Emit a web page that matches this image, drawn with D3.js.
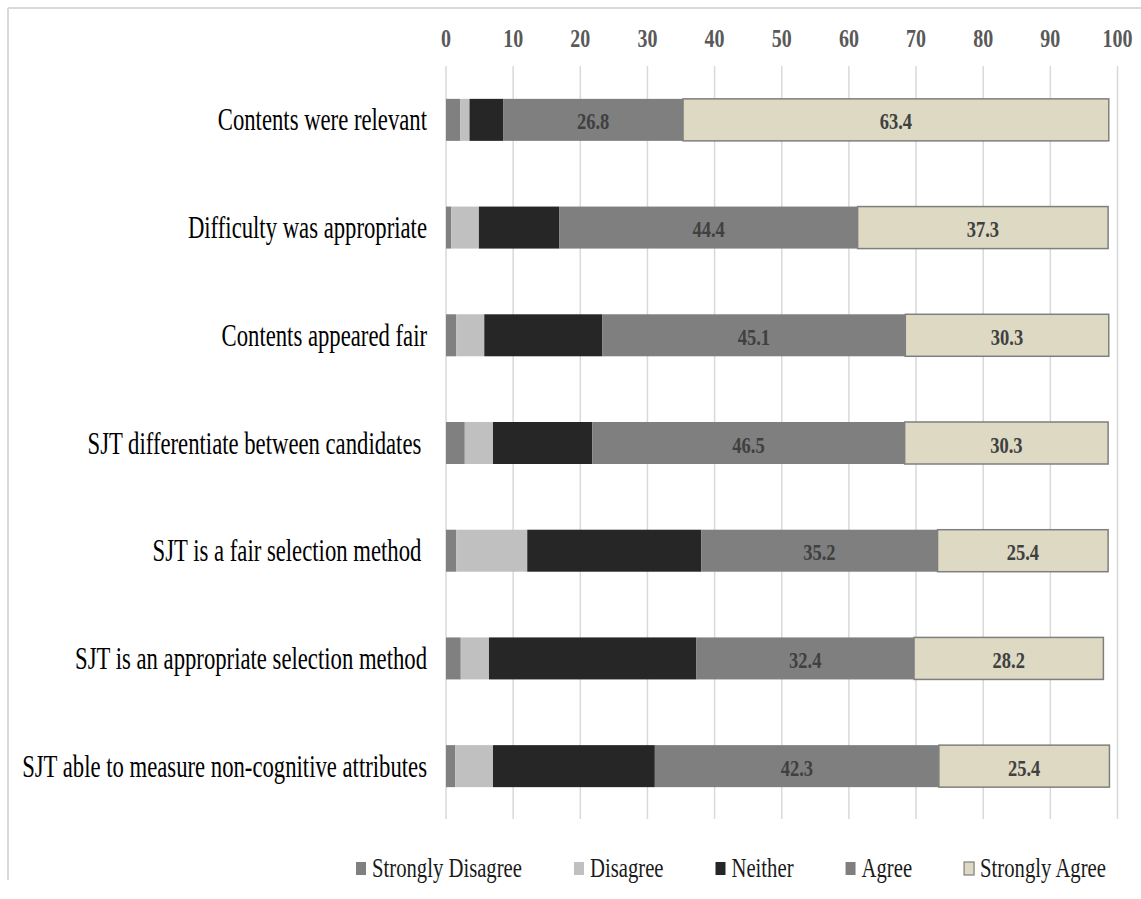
<!DOCTYPE html>
<html>
<head>
<meta charset="utf-8">
<script src="https://d3js.org/d3.v7.min.js"></script>
<style>
  html, body { margin: 0; padding: 0; background: #ffffff; }
  svg { display: block; }
  text { white-space: pre; }
</style>
</head>
<body>
<svg id="chart" width="1141" height="899"></svg>
<script>
// ---- data ----
const categories = [
  "Contents were relevant",
  "Difficulty was appropriate",
  "Contents appeared fair",
  "SJT differentiate between candidates ",
  "SJT is a fair selection method ",
  "SJT is an appropriate selection method",
  "SJT able to measure non-cognitive attributes"
];
const seriesNames = ["Strongly Disagree", "Disagree", "Neither", "Agree", "Strongly Agree"];
const stronglyDisagree = [2.1, 0.8, 1.5, 2.8, 1.5, 2.2, 1.4];
const disagree         = [1.4, 4.1, 4.2, 4.2, 10.6, 4.2, 5.6];
const neither          = [5.0, 12.0, 17.6, 14.8, 25.9, 30.9, 24.1];
const agree            = [26.8, 44.4, 45.1, 46.5, 35.2, 32.4, 42.3];
const stronglyAgree    = [63.4, 37.3, 30.3, 30.3, 25.4, 28.2, 25.4];
const tickValues = [0, 10, 20, 30, 40, 50, 60, 70, 80, 90, 100];
const labelledSeries = ["Agree", "Strongly Agree"];

// ---- styling ----
const colors = {
  "Strongly Disagree": "#808080",
  "Disagree": "#c0c0c0",
  "Neither": "#262626",
  "Agree": "#7f7f7f",
  "Strongly Agree": "#ddd9c3"
};
const strokes = {
  "Strongly Agree": "#7f7f7f"
};
const serif = "'Liberation Serif', 'Times New Roman', serif";

const svg = d3.select("#chart");

// frame lines (top and left)
svg.append("line").attr("x1", 8).attr("x2", 1141).attr("y1", 8).attr("y2", 8)
  .attr("stroke", "#d9d9d9").attr("stroke-width", 2);
svg.append("line").attr("x1", 8).attr("x2", 8).attr("y1", 8).attr("y2", 880)
  .attr("stroke", "#d9d9d9").attr("stroke-width", 2);

// ---- scales ----
const x = d3.scaleLinear().domain([0, 100]).range([446, 1117.5]);
const y = d3.scaleBand().domain(categories).range([66, 820])
  .paddingInner(0.61).paddingOuter(0.305);

// rows for stacking
const seriesValues = [stronglyDisagree, disagree, neither, agree, stronglyAgree];
const rows = categories.map((c, i) => {
  const r = { category: c };
  seriesNames.forEach((s, j) => r[s] = seriesValues[j][i]);
  return r;
});
const stacked = d3.stack().keys(seriesNames)(rows);

// helper for vertically stretched text
function stretchedText(g, tx, ty, k) {
  return g.append("text").attr("transform", `translate(${tx},${ty}) scale(1,${k})`);
}

// gridlines
const grid = svg.append("g");
grid.selectAll("line").data(tickValues).join("line")
  .attr("x1", d => x(d)).attr("x2", d => x(d))
  .attr("y1", 66).attr("y2", 819)
  .attr("stroke", "#d9d9d9").attr("stroke-width", 1.5);

// top axis tick labels
const axisG = svg.append("g");
tickValues.forEach(t => {
  stretchedText(axisG, x(t), 46.5, 1.3)
    .attr("text-anchor", "middle")
    .attr("font-family", serif)
    .attr("font-weight", "bold")
    .attr("font-size", 20)
    .attr("fill", "#595959")
    .text(t);
});

// bars
const barsG = svg.append("g");
stacked.forEach(layer => {
  const key = layer.key;
  barsG.append("g").selectAll("rect").data(layer).join("rect")
    .attr("x", d => x(d[0]))
    .attr("width", d => x(d[1]) - x(d[0]))
    .attr("y", d => y(d.data.category))
    .attr("height", y.bandwidth())
    .attr("fill", colors[key])
    .attr("stroke", strokes[key] || "none")
    .attr("stroke-width", strokes[key] ? 1.5 : 0);
});

// data labels
const labelG = svg.append("g");
stacked.filter(l => labelledSeries.includes(l.key)).forEach(layer => {
  layer.forEach(d => {
    stretchedText(labelG, (x(d[0]) + x(d[1])) / 2, y(d.data.category) + y.bandwidth() / 2 + 9.5, 1.25)
      .attr("text-anchor", "middle")
      .attr("font-family", serif)
      .attr("font-weight", "bold")
      .attr("font-size", 18.5)
      .attr("fill", "#404040")
      .text(d3.format(".1f")(d[1] - d[0]));
  });
});

// category labels
const catG = svg.append("g");
categories.forEach(c => {
  stretchedText(catG, 427, y(c) + y.bandwidth() / 2 + 10.5, 1.4)
    .attr("text-anchor", "end")
    .attr("font-family", serif)
    .attr("font-size", 22.7)
    .attr("fill", "#000000")
    .text(c);
});

// legend
const legendG = svg.append("g");
let lx = 356;
seriesNames.forEach(s => {
  legendG.append("rect")
    .attr("x", lx).attr("y", 862).attr("width", 10).attr("height", 13)
    .attr("fill", colors[s])
    .attr("stroke", strokes[s] || "none")
    .attr("stroke-width", strokes[s] ? 1.2 : 0);
  const t = stretchedText(legendG, lx + 16, 876.5, 1.35)
    .attr("font-family", serif)
    .attr("font-size", 20.7)
    .attr("fill", "#1a1a1a")
    .text(s);
  lx += 16 + t.node().getComputedTextLength() + 52;
});
</script>
</body>
</html>
